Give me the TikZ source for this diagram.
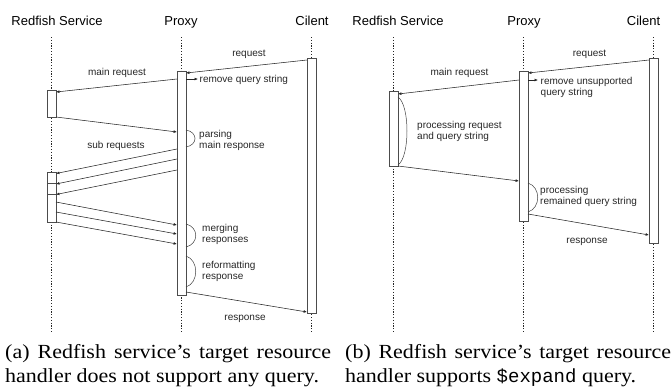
\documentclass[tikz,border=0pt]{standalone}
\usepackage{fontspec}
\setmainfont{Liberation Serif}
\setsansfont{Liberation Sans}
\setmonofont{Liberation Mono}
\newfontfamily\capfont[FakeStretch=1.1, Ligatures=TeX]{Liberation Serif}
\newfontfamily\capmono[Scale=0.95]{Liberation Mono}
\usetikzlibrary{arrows.meta}

\begin{document}
\begin{tikzpicture}[x=1pt,y=-1pt,
  lifeline/.style={draw=black!85, line width=0.9pt, dash pattern=on 1.1pt off 1.7pt},
  actbox/.style={draw=black!70, fill=white, line width=0.6pt, minimum width=9pt, inner sep=0pt, outer sep=0pt},
  msg/.style={draw=black!85, line width=0.55pt, -{Latex[length=3.4pt,width=2.8pt]}},
  bracecurve/.style={draw=black!75, line width=0.5pt},
  title/.style={font=\sffamily\fontsize{13}{15}\selectfont, inner sep=0pt, anchor=base},
  lbl/.style={font=\sffamily\fontsize{10}{11.5}\selectfont, text=black!85, inner sep=0pt, align=left},
  captext/.style={font=\capfont\fontsize{20}{24}\selectfont, text width=326pt, align=justify, inner sep=0pt, anchor=base west}
]
\useasboundingbox (0,0) rectangle (672,386);

% ---------------- panel (a) ----------------
\node[title] (tRA) at (57,25) {Redfish Service};
\node[title] (tPA) at (181,25) {Proxy};
\node[title] (tCA) at (312,25) {Cilent};

\coordinate (raTop) at (51.5,37);  \coordinate (raBot) at (51.5,333);
\coordinate (paTop) at (181.5,37); \coordinate (paBot) at (181.5,333);
\coordinate (caTop) at (311.5,37); \coordinate (caBot) at (311.5,333);
\draw[lifeline] (raTop) -- (raBot);
\draw[lifeline] (paTop) -- (paBot);
\draw[lifeline] (caTop) -- (caBot);

\node[actbox, minimum height=255pt] (cA) at (311.5,185.5) {};
\node[actbox, minimum height=224pt] (pA) at (181.5,183) {};
\node[actbox, minimum height=27pt] (rA1) at (51.5,103.5) {};
\node[actbox, minimum height=11pt] (rA2a) at (51.5,177.5) {};
\node[actbox, minimum height=11pt] (rA2b) at (51.5,188.5) {};
\node[actbox, minimum height=28pt] (rA2c) at (51.5,208) {};

% incoming request and forwarded main request
\draw[msg] ([yshift=-2pt]cA.north west) -- ([yshift=-2pt]pA.north east);
\node[lbl, anchor=base] (lReqA) at (249,56) {request};
\draw[msg] ([yshift=-8pt]pA.north west) -- ([yshift=-2pt]rA1.north east);
\node[lbl, anchor=base] (lMainA) at (117,75) {main request};
\draw[msg] ([yshift=-8pt]pA.north east) -- ++(12,0);
\node[lbl, anchor=base west] (lRemA) at (199.5,82.5) {remove query string};

% main response (two-line labels are anchored at the baseline of their last line)
\draw[msg] (rA1.south east) -- ([yshift=-61pt]pA.north west);
\draw[bracecurve] ([yshift=-59pt]pA.north east) .. controls +(12,2) and +(12,-2) .. ([yshift=-76pt]pA.north east);
\node[lbl, anchor=base west] (lParse) at (199,148.5) {parsing\\main response};

% sub requests
\node[lbl, anchor=base] (lSub) at (116,148) {sub requests};
\draw[msg] ([yshift=-78pt]pA.north west) -- ([yshift=-1.5pt]rA2a.north east);
\draw[msg] ([yshift=-88pt]pA.north west) -- ([yshift=-1pt]rA2b.north east);
\draw[msg] ([yshift=-99pt]pA.north west) -- ([yshift=-0.5pt]rA2c.north east);

% sub responses
\draw[msg] ([yshift=-8pt]rA2c.north east) -- ([yshift=-154pt]pA.north west);
\draw[msg] ([yshift=-18pt]rA2c.north east) -- ([yshift=-163pt]pA.north west);
\draw[msg] (rA2c.south east) -- ([yshift=-173pt]pA.north west);
\draw[bracecurve] ([yshift=-153pt]pA.north east) .. controls +(13,3) and +(13,-3) .. ([yshift=-176pt]pA.north east);
\node[lbl, anchor=base west] (lMerge) at (202,242.5) {merging\\responses};
\draw[bracecurve] ([yshift=-185pt]pA.north east) .. controls +(13,4) and +(13,-4) .. ([yshift=-216pt]pA.north east);
\node[lbl, anchor=base west] (lRefmt) at (202,279.5) {reformatting\\response};

% final response
\draw[msg] ([yshift=3pt]pA.south east) -- ([yshift=1pt]cA.south west);
\node[lbl, anchor=base] (lRespA) at (245,320) {response};

% ---------------- panel (b) ----------------
\node[title] (tRB) at (398,25) {Redfish Service};
\node[title] (tPB) at (524,25) {Proxy};
\node[title] (tCB) at (643.5,25) {Cilent};

\coordinate (rbTop) at (393.5,37); \coordinate (rbBot) at (393.5,333);
\coordinate (pbTop) at (523.5,37); \coordinate (pbBot) at (523.5,333);
\coordinate (cbTop) at (653.5,37); \coordinate (cbBot) at (653.5,333);
\draw[lifeline] (rbTop) -- (rbBot);
\draw[lifeline] (pbTop) -- (pbBot);
\draw[lifeline] (cbTop) -- (cbBot);

\node[actbox, minimum height=185pt] (cB) at (653.5,150.5) {};
\node[actbox, minimum height=150pt] (pB) at (523.5,146) {};
\node[actbox, minimum height=75pt] (rB) at (393.5,128.5) {};

\draw[msg] ([yshift=-2pt]cB.north west) -- ([yshift=-2pt]pB.north east);
\node[lbl, anchor=base] (lReqB) at (589.5,56) {request};
\draw[msg] ([yshift=-9pt]pB.north west) -- ([yshift=-3pt]rB.north east);
\node[lbl, anchor=base] (lMainB) at (459.5,75) {main request};
\draw[msg] ([yshift=-9pt]pB.north east) -- ++(10,0);
\node[lbl, anchor=base west] (lRemB) at (540.5,95.5) {remove unsupported\\query string};

\draw[bracecurve] ([yshift=-6pt]rB.north east) .. controls +(12,8) and +(12,-8) .. ([yshift=1pt]rB.south east);
\node[lbl, anchor=base west] (lProcB) at (417,139.5) {processing request\\and query string};

\draw[msg] (rB.south east) -- ([yshift=-110pt]pB.north west);
\draw[bracecurve] ([yshift=-112pt]pB.north east) .. controls +(13,4) and +(13,-4) .. ([yshift=-141pt]pB.north east);
\node[lbl, anchor=base west] (lRemainB) at (540,204.5) {processing\\remained query string};

\draw[msg] ([yshift=-143pt]pB.north east) -- ([yshift=-177pt]cB.north west);
\node[lbl, anchor=base] (lRespB) at (587,243) {response};

% ---------------- captions ----------------
\node[captext] (capA) at (5,358) {(a) Redfish service's target resource\linebreak handler does not support any query.};
\node[captext] (capB) at (345,358) {(b) Redfish service's target resource\linebreak handler supports {\capmono\$expand} query.};
\end{tikzpicture}
\end{document}
